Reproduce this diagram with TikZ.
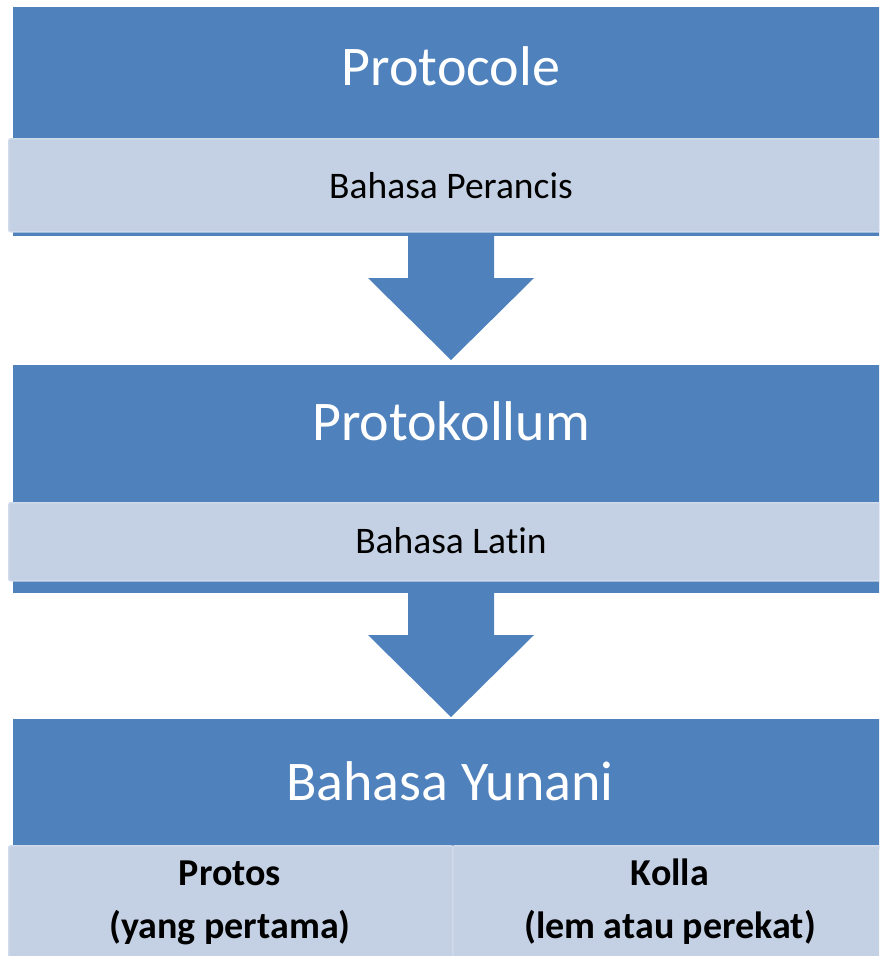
\documentclass[tikz,border=0pt]{standalone}
\usepackage{fontspec}
\setmainfont[Ligatures=NoCommon]{Carlito}
\definecolor{headblue}{HTML}{4F81BD}
\definecolor{bandblue}{HTML}{C4D0E3}
\definecolor{bandedge}{HTML}{D0DAEA}
\tikzset{
  blockbox/.style={fill=headblue, draw=none, inner sep=0pt, anchor=north west},
  bandbox/.style={fill=bandblue, draw=bandedge, line width=1.5pt, rounded corners=2pt, inner sep=0pt, anchor=north west},
  headtext/.style={text=white, font=\fontsize{56}{60}\selectfont, anchor=base},
  bandtext/.style={text=black, font=\fontsize{37.5}{40}\selectfont, anchor=base},
  celltext/.style={text=black, font=\bfseries\fontsize{38}{40}\selectfont, anchor=base},
  downarrow/.style={fill=headblue, draw=none}
}
\begin{document}
\begin{tikzpicture}[x=1pt, y=-1pt]
        \useasboundingbox (0,0) rectangle (879,956);
        \clip (0,0) rectangle (879,956);

        % first block
        \node[blockbox, minimum width=880pt, minimum height=229pt] (proto) at (13,7) {};
        \node[bandbox, minimum width=885pt, minimum height=93pt] (perancis) at (8,138) {};
        \node[headtext] (protocole) at (451,85) {Protocole};
        \node[bandtext] (perancislbl) at (451,198) {Bahasa Perancis};

        % arrow one
        \fill[downarrow] (408,236) -- (494,236) -- (494,278) -- (534,278)
            -- (451,360) -- (368,278) -- (408,278) -- cycle;

        % second block
        \node[blockbox, minimum width=880pt, minimum height=228pt] (latin) at (13,365) {};
        \node[bandbox, minimum width=885pt, minimum height=78pt] (latinband) at (8,502) {};
        \node[headtext] (protokollum) at (451,440) {Protokollum};
        \node[bandtext] (latinlbl) at (451,553) {Bahasa Latin};

        % arrow two
        \fill[downarrow] (408,593) -- (494,593) -- (494,635) -- (534,635)
            -- (451,717) -- (368,635) -- (408,635) -- cycle;

        % third block
        \node[blockbox, minimum width=880pt, minimum height=130pt] (yunani) at (13,719) {};
        \node[headtext, font=\fontsize{56}{60}\selectfont] (yunanilbl) at (450,800) {Bahasa Yunani};
        \node[bandbox, minimum width=444pt, minimum height=120pt] (protos) at (8,845) {};
        \node[bandbox, minimum width=433pt, minimum height=120pt] (kolla) at (452,845) {};
        \node[celltext] (protoslbl) at (230,885) {Protos};
        \node[celltext] (protosarti) at (230,938) {(yang pertama)};
        \node[celltext] (kollalbl) at (670,885) {Kolla};
        \node[celltext] (kollaarti) at (670,938) {(lem atau perekat)};
    \end{tikzpicture}
\end{document}
